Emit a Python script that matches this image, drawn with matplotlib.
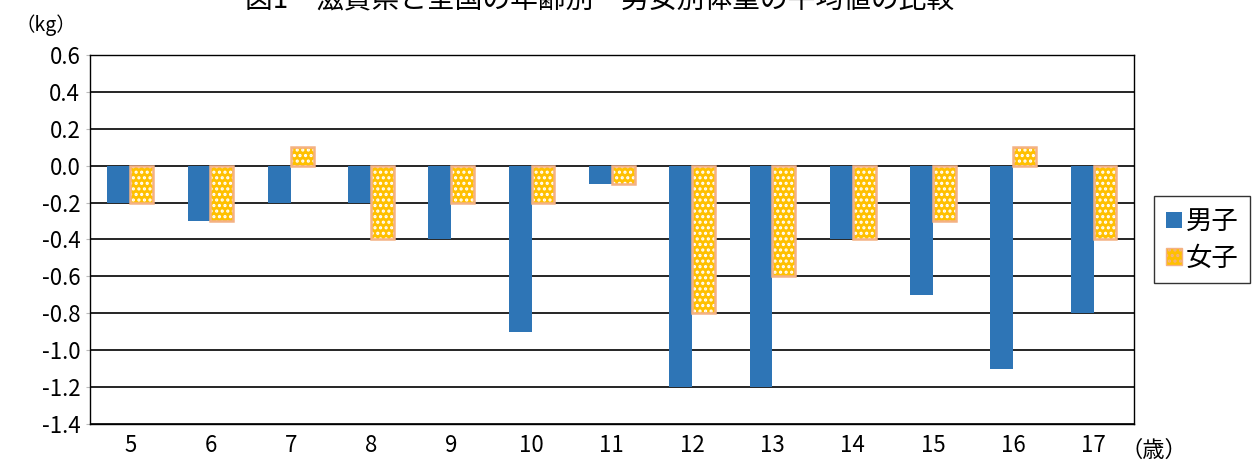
import matplotlib
matplotlib.use('Agg')
from matplotlib import pyplot as plt
from matplotlib.patches import Patch
import numpy as np

plt.rcParams['font.family'] = ['Noto Sans CJK JP', 'DejaVu Sans']
plt.rcParams['hatch.linewidth'] = 1.5

# データ
ages = ['5', '6', '7', '8', '9', '10', '11', '12', '13', '14', '15', '16', '17']
boys = [-0.2, -0.3, -0.2, -0.2, -0.4, -0.9, -0.1, -1.2, -1.2, -0.4, -0.7, -1.1, -0.8]
girls = [-0.2, -0.3, 0.1, -0.4, -0.2, -0.2, -0.1, -0.8, -0.6, -0.4, -0.3, 0.1, -0.4]
yticks = [0.6, 0.4, 0.2, 0.0, -0.2, -0.4, -0.6, -0.8, -1.0, -1.2, -1.4]

blue = '#2E75B6'
gold = '#FFC000'
edge = '#F4B183'

fig = plt.figure(figsize=(12.59, 4.62), dpi=100)
ax = fig.add_axes([0.0715, 0.0823, 0.829, 0.7987])

x = np.arange(len(ages))
w = 0.285

ax.bar(x - w / 2, boys, width=w, color=blue, zorder=3)
# 女子: 金色の地に白い点
ax.bar(x + w / 2, girls, width=w, color=gold, edgecolor='white', hatch='...', linewidth=0, zorder=3)
ax.bar(x + w / 2, girls, width=w, fill=False, edgecolor=edge, linewidth=1.8, zorder=4)

ax.set_xlim(-0.5, len(ages) - 0.5)
ax.set_ylim(-1.4, 0.6)
ax.set_yticks(yticks)
ax.set_yticklabels(['%.1f' % v for v in yticks], fontsize=16)
ax.set_xticks(x)
ax.set_xticklabels(ages, fontsize=16)
ax.tick_params(axis='x', length=0, pad=7)
ax.tick_params(axis='y', length=3, color='#bbbbbb', pad=4)
ax.yaxis.grid(True, color='black', linewidth=1.2, zorder=0)
for s in ax.spines.values():
    s.set_linewidth(1.0)
    s.set_color('black')

fig.text(0.012, 0.945, '（kg）', fontsize=14, ha='left', va='center')
fig.text(0.89, 0.025, '（歳）', fontsize=16, ha='left', va='center')
fig.text(0.476, 1.0, '図1　滋賀県と全国の年齢別　男女別体重の平均値の比較', fontsize=20, ha='center', va='center')

handles = [Patch(facecolor=blue, label='男子'),
           Patch(facecolor=gold, edgecolor=edge, hatch='...', label='女子')]
leg = fig.legend(handles=handles, loc='upper left', bbox_to_anchor=(0.9165, 0.575),
                 fontsize=19, handlelength=0.6, handleheight=0.6, handletextpad=0.15,
                 frameon=True, fancybox=False, edgecolor='black', borderpad=0.45,
                 labelspacing=0.35, borderaxespad=0)
leg.get_frame().set_linewidth(1.0)

fig.savefig('out.png', dpi=100)
